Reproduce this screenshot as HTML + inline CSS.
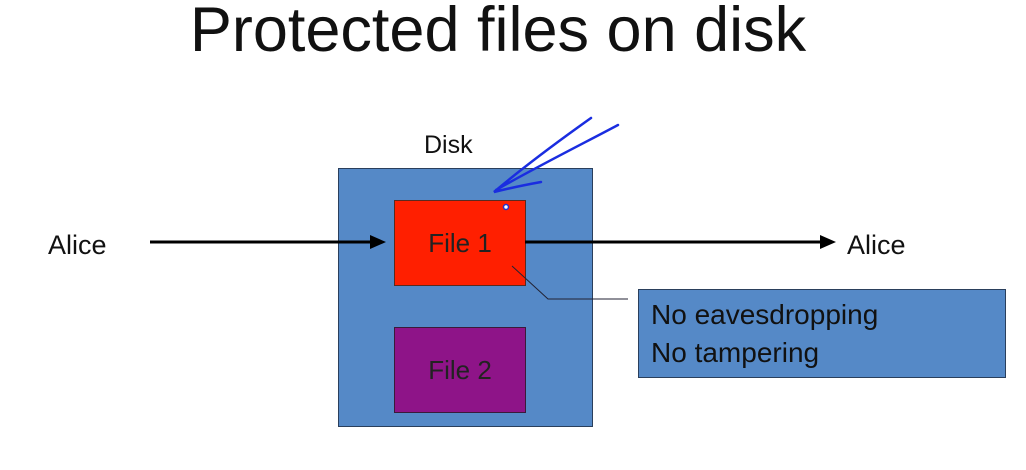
<!DOCTYPE html>
<html><head><style>
body{margin:0;width:1026px;height:470px;background:#fff;overflow:hidden;font-family:"Liberation Sans",sans-serif;}
.a{position:absolute}
</style></head><body>
<div class="a" style="left:0;width:996px;top:-6px;text-align:center;font-size:63px;color:#111">Protected files on disk</div>
<div class="a" style="left:424px;top:131px;font-size:25px;color:#111">Disk</div>
<div class="a" style="left:338px;top:168px;width:253px;height:257px;background:#5589c7;border:1px solid #2a3f5c"></div>
<div class="a" style="left:394px;top:200px;width:130px;height:84px;background:#ff1f00;border:1px solid #5a2a20;display:flex;align-items:center;justify-content:center;font-size:26px;color:#222">File 1</div>
<div class="a" style="left:394px;top:327px;width:130px;height:84px;background:#8e1488;border:1px solid #3a1a3a;display:flex;align-items:center;justify-content:center;font-size:26px;color:#222">File 2</div>
<div class="a" style="left:638px;top:289px;width:366px;height:87px;background:#5589c7;border:1px solid #2a3f5c"></div>
<div class="a" style="left:651px;top:296px;font-size:28px;line-height:38px;color:#111">No eavesdropping<br>No tampering</div>
<div class="a" style="left:48px;top:230px;font-size:27px;color:#111">Alice</div>
<div class="a" style="left:847px;top:230px;font-size:27px;color:#111">Alice</div>
<svg class="a" style="left:0;top:0" width="1026" height="470">
<line x1="150" y1="242" x2="372" y2="242" stroke="#000" stroke-width="3"/>
<polygon points="386,242 370,235 370,249" fill="#000"/>
<line x1="525" y1="242" x2="822" y2="242" stroke="#000" stroke-width="3"/>
<polygon points="836,242 820,235 820,249" fill="#000"/>
<polyline points="512,266 548,299 628,299" fill="none" stroke="#223" stroke-width="1"/>
<path d="M591,118 C560,140 520,170 494,192 C510,188 530,184 541,182 M618,125 C590,140 540,165 496,190" fill="none" stroke="#1a2de0" stroke-width="2.5" stroke-linecap="round"/>
<circle cx="506" cy="207" r="2.5" fill="#fff" stroke="#2233cc" stroke-width="1.5"/>
</svg>
</body></html>
